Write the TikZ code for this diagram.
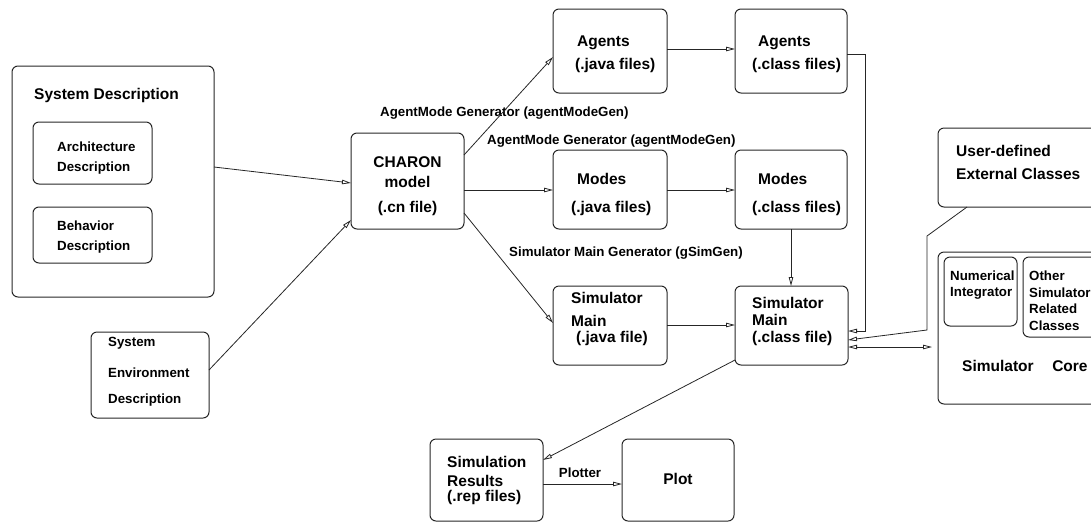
\documentclass[tikz,border=0pt]{standalone}
\usepackage{fontspec}
\setmainfont{Liberation Sans}
\usetikzlibrary{fit,arrows.meta}
\begin{document}
\begin{tikzpicture}[x=1pt,y=-1pt,
  box/.style={draw=black!85,line width=1pt,rounded corners=6pt,inner sep=0pt,outer sep=0pt},
  tb/.style={anchor=west,inner sep=0pt,font=\fontsize{15.5}{18}\selectfont\bfseries},
  tbc/.style={anchor=center,inner sep=0pt,font=\fontsize{15.5}{18}\selectfont\bfseries},
  ts/.style={anchor=west,inner sep=0pt,font=\fontsize{13.3}{16}\selectfont\bfseries},
  tsc/.style={anchor=center,inner sep=0pt,font=\fontsize{13.3}{16}\selectfont\bfseries},
  conn/.style={draw=black!85,line width=0.8pt},
  arr/.style={conn,-{Triangle[open,length=9pt,width=4.5pt]}},
  darr/.style={conn,{Triangle[open,length=9pt,width=4.5pt]}-{Triangle[open,length=9pt,width=4.5pt]}}]
\useasboundingbox (0,0) rectangle (1091,523);
\clip (0,0) rectangle (1091,523);
% boxes
\node[box,fit={(12,66)(214,297)}] (sd) {};
\node[box,fit={(33,122)(152,184)}] (arch) {};
\node[box,fit={(33,207)(152,263)}] (beh) {};
\node[box,fit={(91,332)(209,418)}] (env) {};
\node[box,fit={(351,133)(464,229)}] (charon) {};
\node[box,fit={(553,9)(667,93)}] (agj) {};
\node[box,fit={(735,9)(847,93)}] (agc) {};
\node[box,fit={(553,150)(667,229)}] (moj) {};
\node[box,fit={(735,150)(847,229)}] (moc) {};
\node[box,fit={(553,286)(667,365)}] (smj) {};
\node[box,fit={(735,286)(848,365)}] (smc) {};
\node[box,fit={(938,128)(1110,207)}] (user) {};
\node[box,fit={(938,252)(1110,404)}] (core) {};
\node[box,fit={(944,257)(1017,326)}] (num) {};
\node[box,fit={(1023,257)(1110,337)}] (other) {};
\node[box,fit={(430,439)(543,521)}] (res) {};
\node[box,fit={(622,439)(734,521)}] (plot) {};
% texts
\node[tb] (t1) at (34,95) {System Description};
\node[ts] (t2) at (57,147) {Architecture};
\node[ts] (t3) at (57,168) {Description};
\node[ts] (t4) at (57,226) {Behavior};
\node[ts] (t5) at (57,247) {Description};
\node[ts] (t6) at (108,343) {System};
\node[ts] (t7) at (108,373) {Environment};
\node[ts] (t8) at (108,400) {Description};
\node[tbc] (t9) at (407.5,162) {CHARON};
\node[tbc] (t10) at (407.5,182) {model};
\node[tbc] (t11) at (407.5,208) {(.cn file)};
\node[tb] (t12) at (577,43) {Agents};
\node[tb] (t13) at (575,65) {(.java files)};
\node[tb] (t14) at (758,43) {Agents};
\node[tb] (t15) at (752,65) {(.class files)};
\node[tb] (t16) at (577,179) {Modes};
\node[tb] (t17) at (571,208) {(.java files)};
\node[tb] (t18) at (758,179) {Modes};
\node[tb] (t19) at (752,208) {(.class files)};
\node[tb] (t20) at (571,298) {Simulator};
\node[tb] (t21) at (571,321) {Main};
\node[tb] (t22) at (576,338) {(.java file)};
\node[tb] (t23) at (752,303) {Simulator};
\node[tb] (t24) at (752,320) {Main};
\node[tb] (t25) at (752,338) {(.class file)};
\node[tb] (t26) at (956,151) {User-defined};
\node[tb] (t27) at (956,174) {External Classes};
\node[ts] (t28) at (950,276) {Numerical};
\node[ts] (t29) at (950,293) {Integrator};
\node[ts] (t30) at (1029,276) {Other};
\node[ts] (t31) at (1029,293) {Simulator};
\node[ts] (t32) at (1029,309) {Related};
\node[ts] (t33) at (1029,326) {Classes};
\node[tb] (t34) at (962,366) {Simulator\hspace{1.2em}Core};
\node[tb] (t35) at (447,462) {Simulation};
\node[tb] (t36) at (447,481) {Results};
\node[tb] (t37) at (447,497) {(.rep files)};
\node[tbc] (t38) at (678,479) {Plot};
% edge labels
\node[ts] (l1) at (380,113) {AgentMode Generator (agentModeGen)};
\node[ts] (l2) at (487,141) {AgentMode Generator (agentModeGen)};
\node[ts] (l3) at (509,253) {Simulator Main Generator (gSimGen)};
\node[tsc] (l4) at (580,473) {Plotter};
% connectors
\coordinate (k1) at (865,54);
\coordinate (k2) at (865,331);
\coordinate (k3) at (927,236);
\coordinate (k4) at (927,330);
\draw[arr] (sd.east |- 0,167) -- (charon.west |- 0,183);
\draw[arr] (env.east |- 0,370) -- (charon.west |- 0,220);
\draw[arr] (charon.east |- 0,155) -- (agj.west |- 0,57);
\draw[arr] (charon.east |- 0,190) -- (moj.west |- 0,190);
\draw[arr] (charon.east |- 0,213) -- (smj.west |- 0,323);
\draw[arr] (agj.east |- 0,49) -- (agc.west |- 0,49);
\draw[arr] (moj.east |- 0,190) -- (moc.west |- 0,190);
\draw[arr] (smj.east |- 0,325) -- (smc.west |- 0,325);
\draw[arr] (moc.south) -- (moc.south |- smc.north);
\draw[arr] (agc.east |- k1) -- (k1) -- (k2) -- (smc.east |- k2);
\draw[arr] (user.south -| 967,0) -- (k3) -- (k4) -- (smc.east |- 0,340);
\draw[darr] (smc.east |- 0,347) -- ([xshift=-6pt]core.west |- 0,347);
\draw[arr] (smc.west |- 0,360) -- (res.east |- 0,460);
\draw[arr] (res.east |- 0,484) -- (plot.west |- 0,484);
\end{tikzpicture}
\end{document}
